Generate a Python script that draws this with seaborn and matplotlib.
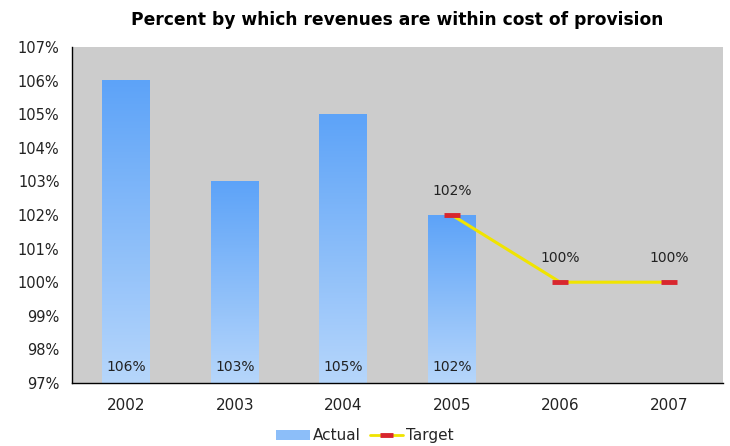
import numpy as np
import pandas as pd
import matplotlib
matplotlib.use("Agg")
import matplotlib.pyplot as plt
import seaborn as sns
from matplotlib.colors import LinearSegmentedColormap
from matplotlib.lines import Line2D
from matplotlib.patches import Patch
from matplotlib.ticker import FixedLocator, FuncFormatter
from matplotlib.legend_handler import HandlerBase

years = ["2002", "2003", "2004", "2005", "2006", "2007"]
actual = [106, 103, 105, 102, None, None]
target_years = ["2005", "2006", "2007"]
target = [102, 100, 100]

title = "Percent by which revenues are within cost of provision"

sns.set_theme(style="white")
plt.rcParams["font.family"] = ["DejaVu Sans"]

fig = plt.figure(figsize=(7.3, 4.46), dpi=100)
ax = fig.add_axes([72 / 730, 1 - 383 / 446, 651 / 730, 336 / 446])
ax.set_facecolor("#cccccc")

df = pd.DataFrame({"year": years, "actual": [v if v is not None else np.nan for v in actual]})
sns.barplot(data=df, x="year", y="actual", order=years, width=0.44, color="#5fa5f8",
            ax=ax, saturation=1, bottom=0)

ymin, ymax = 97, 107
ax.set_ylim(ymin, ymax)
ax.set_xlim(-0.5, len(years) - 0.5)

# Vertical gradient fill for each bar
grad_cmap = LinearSegmentedColormap.from_list("bar", ["#b6d6fb", "#5da3f8"])
grad = np.linspace(0, 1, 256).reshape(-1, 1)
for p in ax.patches:
    x0, w = p.get_x(), p.get_width()
    h = p.get_height()
    if not np.isfinite(h) or h <= ymin:
        continue
    p.set_facecolor("none")
    p.set_edgecolor("none")
    ax.imshow(grad, cmap=grad_cmap, origin="lower", aspect="auto",
              extent=[x0, x0 + w, ymin, h], zorder=2)

# Value labels at the base of each bar
for i, v in enumerate(actual):
    if v is None:
        continue
    ax.text(i, ymin + 0.48, f"{v}%", ha="center", va="center", fontsize=10,
            color="#222222", zorder=5)

# Target line
tx = [years.index(y) for y in target_years]
ax.plot(tx, target, color="#f0e400", lw=2.2, zorder=4, solid_capstyle="butt")
for x, v in zip(tx, target):
    ax.plot([x - 0.075, x + 0.075], [v, v], color="#d8262e", lw=3.5, zorder=5,
            solid_capstyle="butt")
    ax.text(x, v + 0.72, f"{v}%", ha="center", va="center", fontsize=10,
            color="#222222", zorder=5)

# Axes styling
ax.yaxis.set_major_locator(FixedLocator(np.arange(97, 108, 1)))
ax.yaxis.set_major_formatter(FuncFormatter(lambda v, _: f"{int(round(v))}%"))
ax.set_xticks(range(len(years)))
ax.set_xticklabels(years)
ax.set_xticks(np.arange(-0.5, len(years), 1), minor=True)
ax.tick_params(axis="x", which="major", length=0, labelsize=11, pad=11, colors="#222222")
ax.tick_params(axis="x", which="minor", length=5, width=1, color="black", direction="out")
ax.tick_params(axis="y", length=5, width=1, color="black", direction="out",
               labelsize=10.5, colors="#222222", pad=4)
ax.set_xlabel("")
ax.set_ylabel("")
for s in ["top", "right"]:
    ax.spines[s].set_visible(False)
for s in ["left", "bottom"]:
    ax.spines[s].set_color("black")
    ax.spines[s].set_linewidth(1)

ax.set_title(title, fontsize=12.3, fontweight="bold", pad=16, color="black")


class TargetHandler(HandlerBase):
    def create_artists(self, legend, orig, xd, yd, width, height, fontsize, trans):
        y = yd + height / 2
        l1 = Line2D([xd, xd + width], [y, y], color="#f0e400", lw=2, transform=trans)
        l2 = Line2D([xd + width * 0.3, xd + width * 0.7], [y, y], color="#d8262e",
                    lw=3.5, transform=trans, solid_capstyle="butt")
        return [l1, l2]


handles = [Patch(facecolor="#8cbef9", edgecolor="none"), Line2D([], [])]
fig.legend(handles, ["Actual", "Target"], loc="lower center", ncol=2, frameon=False,
           bbox_to_anchor=(0.5, -0.025), fontsize=11, handlelength=2.2,
           handletextpad=0.2, columnspacing=0.6,
           handler_map={handles[1]: TargetHandler()})

fig.savefig("out.png", dpi=100)
